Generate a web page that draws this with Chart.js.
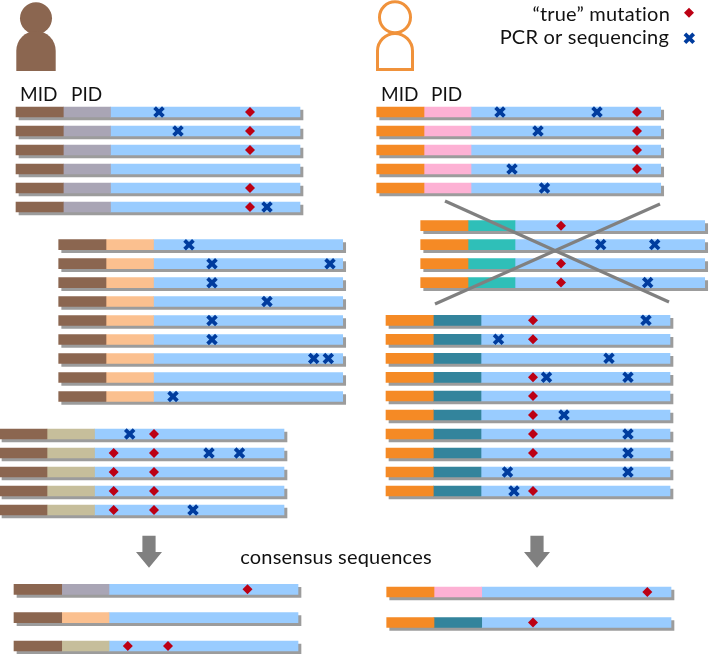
<!DOCTYPE html>
<html>
<head>
<meta charset="utf-8">
<style>html,body{margin:0;padding:0;background:#fff}canvas{display:block}</style>
<script src="https://cdn.jsdelivr.net/npm/chart.js@4"></script>
</head>
<body>
<canvas id="c" width="709" height="654"></canvas>
<script>
// Read groups: [read start, MID end, PID end, read end], rows, true mutations per row, PCR/seq errors per row
const spanA = [16, 63.3, 110.5, 300];
const rowsA = [112, 131, 150, 169, 188, 207];
const trueA = [[250], [250], [250], [], [250], [250]];
const errA = [[159], [178], [], [], [], [267]];

const spanB = [376.7, 424, 471, 660.7];
const rowsB = [112, 131, 150, 169, 188];
const trueB = [[637], [637], [637], [637], []];
const errB = [[500, 597], [538], [], [512], [544.5]];

const spanC = [420.7, 468, 515, 704.7];
const rowsC = [225.7, 244.6, 263.6, 282.6];
const trueC = [[561], [], [561], [561]];
const errC = [[], [600.7, 654.7], [], [647.7]];

const spanD = [58.7, 106, 153.5, 342.7];
const rowsD = [244.7, 263.7, 282.7, 301.5, 320.5, 339.5, 358.5, 377.5, 396.5];
const trueD = [[], [], [], [], [], [], [], [], []];
const errD = [[189], [212, 330], [212], [267], [212], [212], [313.7, 328.3], [], [173]];

const spanE = [-1, 47, 94.5, 284];
const rowsE = [434, 453, 472, 491, 510];
const trueE = [[154], [113.7, 154], [113.7, 154], [113.7, 154], [113.7, 154]];
const errE = [[129.7], [209, 239.5], [], [], [193]];

const spanF = [386, 433.3, 481, 670];
const rowsF = [320.3, 339.3, 358.3, 377.3, 396, 415, 434, 453, 472, 491];
const trueF = [[533], [533], [], [533], [533], [533], [533], [533], [], [533]];
const errF = [[646], [498.5], [609], [546.5, 628], [], [564], [628], [628], [507.5, 628], [514]];

const spanG = [14, 61.7, 109, 298];
const spanH = [386.7, 434, 481.7, 671];
const rowG1 = [589.3], rowG2 = [617.7], rowG3 = [646];
const rowH1 = [592], rowH2 = [622.5];
const trueG1 = [[247.5]], trueG3 = [[127.8, 168]], trueH1 = [[647.3]], trueH2 = [[533]];

const crossLine1 = [{x: 445, y: 201}, {x: 669, y: 302}];
const crossLine2 = [{x: 660, y: 204}, {x: 435, y: 304}];
const legendTrue = [{x: 689, y: 12.7}];
const legendErr = [{x: 689.3, y: 38.3}];
const arrowCentres = [149, 537];

const idLabels = [
  ['MID', 20, 101], ['PID', 71, 101],
  ['MID', 381, 101], ['PID', 431, 101]
];
const legendLabels = [
  ['\u201Ctrue\u201D mutation', 670, 21],
  ['PCR or sequencing', 669, 44]
];
const captionLabel = ['consensus sequences', 336, 564];

const BROWN = '#8B6650', ORANGE = '#F58A25', BLUE = '#99CCFF', SHADOW = '#9C9C9C';
const GRAY = '#A9A5B5', PINK = '#FDB1D4', TURQ = '#2FBFB8', PEACH = '#FBC08F', KHAKI = '#C6BE9B', TEAL = '#33849C';
const RED = '#BC0014', NAVY = '#003C9E';

const shadowSets = [], barSets = [], trueData = [], errData = [];
function bar(color, rows, a, b, order, dx, dy) {
  return {type: 'bar', indexAxis: 'y', grouped: false, barThickness: 10, backgroundColor: color,
    borderWidth: 0, order: order, data: rows.map(y => ({x: [a + dx, b + dx], y: y + dy}))};
}
function addGroup(span, rows, midCol, pidCol, trues, errs) {
  shadowSets.push(bar(SHADOW, rows, span[0], span[3], 5, 3, 3));
  barSets.push(bar(midCol, rows, span[0], span[1], 4, 0, 0));
  barSets.push(bar(pidCol, rows, span[1], span[2], 4, 0, 0));
  barSets.push(bar(BLUE, rows, span[2], span[3], 4, 0, 0));
  rows.forEach((y, i) => {
    (trues[i] || []).forEach(x => trueData.push({x, y}));
    (errs[i] || []).forEach(x => errData.push({x, y}));
  });
}
addGroup(spanA, rowsA, BROWN, GRAY, trueA, errA);
addGroup(spanB, rowsB, ORANGE, PINK, trueB, errB);
addGroup(spanC, rowsC, ORANGE, TURQ, trueC, errC);
addGroup(spanD, rowsD, BROWN, PEACH, trueD, errD);
addGroup(spanE, rowsE, BROWN, KHAKI, trueE, errE);
addGroup(spanF, rowsF, ORANGE, TEAL, trueF, errF);
addGroup(spanG, rowG1, BROWN, GRAY, trueG1, []);
addGroup(spanG, rowG2, BROWN, PEACH, [], []);
addGroup(spanG, rowG3, BROWN, KHAKI, trueG3, []);
addGroup(spanH, rowH1, ORANGE, PINK, trueH1, []);
addGroup(spanH, rowH2, ORANGE, TEAL, trueH2, []);

const decor = {
  id: 'decor',
  afterDatasetsDraw(chart) {
    const c = chart.ctx, X = chart.scales.x, Y = chart.scales.y;
    const px = v => X.getPixelForValue(v), py = v => Y.getPixelForValue(v);
    c.save();
    // filled person
    c.fillStyle = BROWN;
    c.beginPath(); c.arc(px(36), py(18.3), 16, 0, Math.PI * 2); c.fill();
    c.beginPath(); c.moveTo(px(16.3), py(71)); c.lineTo(px(16.3), py(50.7));
    c.arc(px(36), py(50.7), 19.7, Math.PI, 0); c.lineTo(px(55.7), py(71)); c.closePath(); c.fill();
    // outlined person
    c.strokeStyle = '#F0923B'; c.lineWidth = 3;
    c.beginPath(); c.arc(px(395), py(17.3), 15.5, 0, Math.PI * 2); c.stroke();
    c.beginPath(); c.moveTo(px(377.5), py(69.5)); c.lineTo(px(377.5), py(51));
    c.arc(px(395), py(51), 17.5, Math.PI, 0); c.lineTo(px(412.5), py(69.5)); c.closePath(); c.stroke();
    // arrows
    c.fillStyle = '#808080';
    arrowCentres.forEach(a => {
      c.beginPath();
      c.moveTo(px(a - 6.6), py(535.7)); c.lineTo(px(a + 6.6), py(535.7)); c.lineTo(px(a + 6.6), py(552));
      c.lineTo(px(a + 13), py(552)); c.lineTo(px(a), py(567.7)); c.lineTo(px(a - 13), py(552));
      c.lineTo(px(a - 6.6), py(552)); c.closePath(); c.fill();
    });
    // text
    c.fillStyle = '#111'; c.textBaseline = 'alphabetic';
    c.font = '19px Lato';
    c.letterSpacing = '0.01px';
    c.textAlign = 'left';
    idLabels.forEach(t => c.fillText(t[0], px(t[1]), py(t[2])));
    c.font = '20px Lato';
    c.letterSpacing = '0.2px';
    c.textAlign = 'right';
    legendLabels.forEach(t => c.fillText(t[0], px(t[1]), py(t[2])));
    c.textAlign = 'center';
    c.fillText(captionLabel[0], px(captionLabel[1]), py(captionLabel[2]));
    c.restore();
  }
};

new Chart(document.getElementById('c'), {
  type: 'scatter',
  data: {datasets: [
    {type: 'line', data: crossLine1, borderColor: '#808080', borderWidth: 3.2, pointRadius: 0, order: 1},
    {type: 'line', data: crossLine2, borderColor: '#808080', borderWidth: 3.2, pointRadius: 0, order: 1},
    {type: 'scatter', data: trueData, pointStyle: 'rectRot', radius: 5, backgroundColor: RED, borderWidth: 0, order: 2},
    {type: 'scatter', data: legendTrue, pointStyle: 'rectRot', radius: 5, backgroundColor: RED, borderWidth: 0, order: 2},
    {type: 'scatter', data: errData, pointStyle: 'crossRot', radius: 6.2, borderColor: NAVY, borderWidth: 3.8, order: 2},
    {type: 'scatter', data: legendErr, pointStyle: 'crossRot', radius: 6.2, borderColor: NAVY, borderWidth: 3.8, order: 2},
    ...barSets, ...shadowSets
  ]},
  options: {
    responsive: false, animation: false,
    layout: {padding: 0, autoPadding: false},
    plugins: {legend: {display: false}, tooltip: {enabled: false}},
    scales: {
      x: {type: 'linear', display: false, min: 0, max: 709, offset: false},
      y: {type: 'linear', display: false, min: 0, max: 654, reverse: true, offset: false}
    }
  },
  plugins: [decor]
});
</script>
</body>
</html>
